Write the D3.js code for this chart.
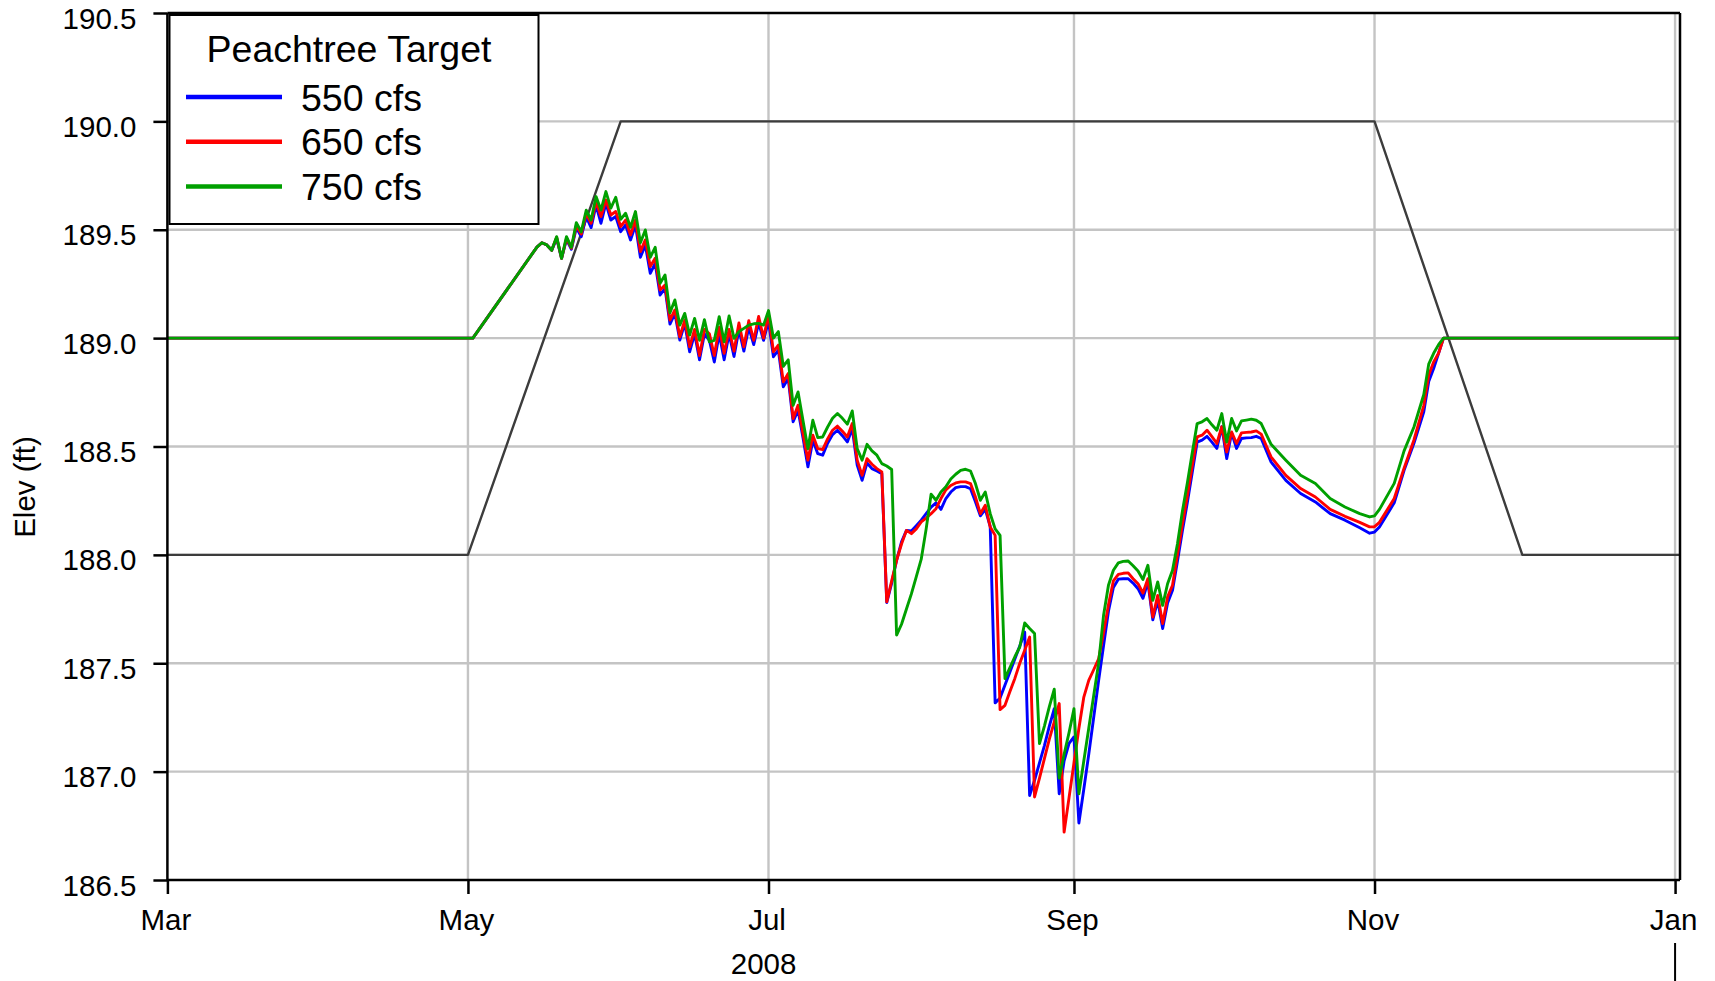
<!DOCTYPE html>
<html>
<head>
<meta charset="utf-8">
<script src="https://cdn.jsdelivr.net/npm/d3@7"></script>
<style>
  html, body { margin: 0; padding: 0; background: #ffffff; }
  svg { display: block; font-family: "Liberation Sans", Arial, Helvetica, sans-serif; }
</style>
</head>
<body>
<svg id="chart" width="1715" height="981"></svg>
<script>
// ---------------- DATA ----------------
const dates = [
  "2008-03-01","2008-05-01","2008-05-02",
  "2008-05-15","2008-05-16","2008-05-17","2008-05-18","2008-05-19","2008-05-20","2008-05-21","2008-05-22","2008-05-23","2008-05-24",
  "2008-05-25","2008-05-26","2008-05-27","2008-05-28","2008-05-29","2008-05-30","2008-05-31",
  "2008-06-01","2008-06-02","2008-06-03","2008-06-04","2008-06-05","2008-06-06","2008-06-07","2008-06-08","2008-06-09","2008-06-10",
  "2008-06-11","2008-06-12","2008-06-13","2008-06-14","2008-06-15","2008-06-16","2008-06-17","2008-06-18","2008-06-19","2008-06-20",
  "2008-06-21","2008-06-22","2008-06-23","2008-06-24","2008-06-25","2008-06-26","2008-06-27","2008-06-28","2008-06-29","2008-06-30",
  "2008-07-01","2008-07-02","2008-07-03","2008-07-04","2008-07-05","2008-07-06","2008-07-07","2008-07-08","2008-07-09","2008-07-10",
  "2008-07-11","2008-07-12","2008-07-13","2008-07-14","2008-07-15","2008-07-16","2008-07-17","2008-07-18","2008-07-19","2008-07-20",
  "2008-07-21","2008-07-22","2008-07-23","2008-07-24","2008-07-25","2008-07-26","2008-07-27","2008-07-28","2008-07-29","2008-07-30","2008-07-31",
  "2008-08-01","2008-08-02","2008-08-03","2008-08-04","2008-08-05","2008-08-06","2008-08-07","2008-08-08","2008-08-09","2008-08-10",
  "2008-08-11","2008-08-12","2008-08-13","2008-08-14","2008-08-15","2008-08-16","2008-08-17","2008-08-18","2008-08-19","2008-08-20",
  "2008-08-21","2008-08-22","2008-08-23","2008-08-24","2008-08-25","2008-08-26","2008-08-27","2008-08-28","2008-08-29","2008-08-30","2008-08-31",
  "2008-09-01","2008-09-02","2008-09-03","2008-09-04","2008-09-05","2008-09-06","2008-09-07","2008-09-08","2008-09-09","2008-09-10",
  "2008-09-11","2008-09-12","2008-09-13","2008-09-14","2008-09-15","2008-09-16","2008-09-17","2008-09-18","2008-09-19","2008-09-20",
  "2008-09-21","2008-09-22","2008-09-23","2008-09-24","2008-09-25","2008-09-26","2008-09-27","2008-09-28","2008-09-29","2008-09-30",
  "2008-10-01","2008-10-02","2008-10-03","2008-10-04","2008-10-05","2008-10-06","2008-10-07","2008-10-08","2008-10-09",
  "2008-10-11","2008-10-14","2008-10-17","2008-10-20","2008-10-23","2008-10-26","2008-10-29","2008-10-31",
  "2008-11-01","2008-11-02","2008-11-05","2008-11-07","2008-11-09","2008-11-11","2008-11-12","2008-11-13","2008-11-14","2008-11-15",
  "2009-01-02"
];

// 550 cfs
const elev550 = [
  189.0,189.0,189.0,
  189.42,189.44,189.43,189.405,189.46,189.368,189.455,189.41,189.51,189.468,
  189.56,189.51,189.614,189.53,189.622,189.545,189.561,
  189.491,189.522,189.453,189.522,189.373,189.43,189.299,189.345,189.199,189.23,
  189.065,189.114,188.991,189.068,188.937,189.02,188.90,189.02,188.99,188.89,
  189.02,188.90,189.02,188.915,189.04,188.94,189.05,188.97,189.07,188.99,
  189.08,188.914,188.945,188.775,188.814,188.614,188.667,188.54,188.406,188.529,
  188.467,188.46,188.515,188.555,188.575,188.55,188.521,188.583,188.414,188.344,
  188.424,188.398,188.387,188.375,187.78,187.87,187.975,188.06,188.113,188.11,188.135,
  188.16,188.19,188.22,188.24,188.21,188.26,188.29,188.31,188.315,188.315,
  188.305,188.245,188.18,188.21,188.13,187.317,187.34,187.40,187.46,187.52,
  187.58,187.644,186.89,186.96,187.04,187.12,187.21,187.29,186.898,187.05,187.13,
  187.16,186.763,186.92,187.08,187.25,187.42,187.58,187.74,187.85,187.888,
  187.89,187.89,187.87,187.844,187.80,187.875,187.70,187.79,187.66,187.778,
  187.837,187.97,188.11,188.24,188.38,188.52,188.529,188.547,188.52,188.491,
  188.591,188.444,188.563,188.491,188.537,188.54,188.541,188.547,188.537,
  188.429,188.344,188.283,188.244,188.19,188.16,188.125,188.10,
  188.105,188.129,188.24,188.39,188.515,188.66,188.80,188.86,188.93,189.0,
  189.0
];

// 650 cfs
const elev650 = [
  189.0,189.0,189.0,
  189.42,189.44,189.43,189.405,189.465,189.368,189.46,189.415,189.52,189.48,
  189.575,189.53,189.63,189.561,189.637,189.568,189.584,
  189.514,189.545,189.476,189.545,189.399,189.453,189.33,189.368,189.222,189.245,
  189.083,189.13,189.006,189.083,188.96,189.04,188.92,189.04,189.02,188.92,
  189.05,188.93,189.04,188.94,189.07,188.96,189.08,188.99,189.10,189.00,
  189.11,188.937,188.968,188.798,188.837,188.629,188.69,188.56,188.437,188.552,
  188.49,188.486,188.535,188.575,188.594,188.57,188.544,188.606,188.437,188.367,
  188.444,188.418,188.398,188.383,187.783,187.88,187.975,188.05,188.113,188.098,188.12,
  188.152,188.17,188.19,188.213,188.26,188.30,188.32,188.332,188.337,188.337,
  188.329,188.267,188.19,188.229,188.129,188.09,187.286,187.306,187.37,187.43,
  187.50,187.56,187.621,186.883,186.97,187.06,187.15,187.23,187.314,186.721,186.88,
  187.04,187.20,187.344,187.421,187.47,187.52,187.64,187.77,187.88,187.91,
  187.915,187.917,187.89,187.867,187.824,187.89,187.713,187.813,187.683,187.806,
  187.86,188.00,188.14,188.27,188.41,188.544,188.552,188.575,188.545,188.514,
  188.591,188.475,188.567,188.514,188.563,188.565,188.567,188.572,188.557,
  188.452,188.367,188.306,188.267,188.21,188.178,188.15,188.129,
  188.13,188.15,188.26,188.40,188.53,188.69,188.83,188.89,188.93,189.0,
  189.0
];

// 750 cfs
const elev750 = [
  189.0,189.0,189.0,
  189.42,189.44,189.43,189.405,189.468,189.368,189.468,189.419,189.533,189.49,
  189.59,189.545,189.653,189.591,189.676,189.60,189.65,
  189.548,189.576,189.511,189.584,189.44,189.499,189.373,189.419,189.253,189.291,
  189.117,189.176,189.06,189.114,189.014,189.091,188.99,189.085,188.983,188.99,
  189.099,188.983,189.102,188.999,189.03,189.045,189.06,189.066,189.068,189.06,
  189.127,189.00,189.03,188.87,188.90,188.69,188.752,188.62,188.49,188.621,
  188.541,188.544,188.59,188.63,188.652,188.63,188.603,188.664,188.49,188.437,
  188.51,188.48,188.46,188.421,188.41,188.394,187.63,187.68,187.75,187.82,187.90,
  187.98,188.12,188.28,188.252,188.29,188.314,188.35,188.372,188.39,188.395,
  188.387,188.329,188.252,188.29,188.19,188.12,188.09,187.429,187.48,187.53,
  187.575,187.686,187.66,187.637,187.129,187.21,187.30,187.38,186.97,187.08,187.18,
  187.29,186.898,187.05,187.20,187.35,187.50,187.72,187.86,187.929,187.963,
  187.97,187.972,187.95,187.926,187.886,187.952,187.79,187.875,187.767,187.867,
  187.929,188.05,188.20,188.33,188.47,188.606,188.614,188.629,188.60,188.575,
  188.652,188.521,188.629,188.572,188.618,188.622,188.626,188.621,188.606,
  188.51,188.437,188.367,188.329,188.26,188.221,188.19,188.175,
  188.18,188.21,188.33,188.48,188.59,188.74,188.88,188.93,188.97,189.0,
  189.0
];

// Peachtree rule curve (target)
const targetDates = ["2008-03-01","2008-05-01","2008-06-01","2008-11-01","2008-12-01","2009-01-02"];
const targetElev  = [188.0, 188.0, 190.0, 190.0, 188.0, 188.0];

const seriesNames  = ["550 cfs","650 cfs","750 cfs"];
const seriesColors = ["#0000ff","#ff0000","#00a000"];
const legendTitle  = "Peachtree Target";

const yTicks = [186.5,187.0,187.5,188.0,188.5,189.0,189.5,190.0,190.5];
const xTickDates  = ["2008-03-01","2008-05-01","2008-07-01","2008-09-01","2008-11-01","2009-01-01"];
const xTickLabels = ["Mar","May","Jul","Sep","Nov","Jan"];
const yearLabel = "2008";
const yearLabelDate = "2008-06-30";
const yearBreakDate = "2009-01-01";
const yTitle = "Elev (ft)";
const xDomain = ["2008-03-01","2009-01-02"];
const yDomain = [186.5, 190.5];

// ---------------- CHART ----------------
const parse = d3.timeParse("%Y-%m-%d");
const svg = d3.select("#chart");
const L = 167.4, R = 1680, T = 13, B = 880;
const FONT = 29.5;
const LFONT = 37.5;

const x = d3.scaleTime().domain(xDomain.map(parse)).range([L, R]);
const y = d3.scaleLinear().domain(yDomain).range([B, T]);

// grid
const grid = svg.append("g").attr("stroke", "#c4c4c4").attr("stroke-width", 2.4);
grid.selectAll("line.h").data(yTicks.slice(1, -1)).join("line")
  .attr("x1", L).attr("x2", R).attr("y1", d => y(d)).attr("y2", d => y(d));
grid.selectAll("line.v").data(xTickDates.slice(1)).join("line")
  .attr("x1", d => x(parse(d))).attr("x2", d => x(parse(d))).attr("y1", T).attr("y2", B);

// target line
const tData = targetDates.map((d, i) => ({ date: parse(d), v: targetElev[i] }));
svg.append("path").datum(tData)
  .attr("fill", "none").attr("stroke", "#3c3c3c").attr("stroke-width", 2.4)
  .attr("stroke-linejoin", "round")
  .attr("d", d3.line().x(d => x(d.date)).y(d => y(d.v)));

// series
const allSeries = [elev550, elev650, elev750];
const line = d3.line().x(d => x(d.date)).y(d => y(d.v));
allSeries.forEach((vals, si) => {
  const data = dates.map((d, i) => ({ date: parse(d), v: vals[i] }));
  svg.append("path").datum(data)
    .attr("fill", "none").attr("stroke", seriesColors[si]).attr("stroke-width", 2.9)
    .attr("stroke-linejoin", "round")
    .attr("d", line);
});

// frame (top & right)
svg.append("line").attr("x1", L).attr("x2", R).attr("y1", T).attr("y2", T)
  .attr("stroke", "#000").attr("stroke-width", 2.5);
svg.append("line").attr("x1", R).attr("x2", R).attr("y1", T).attr("y2", B)
  .attr("stroke", "#000").attr("stroke-width", 2.5);

// y axis
const yAxis = svg.append("g").attr("transform", `translate(${L},0)`)
  .call(d3.axisLeft(y).tickValues(yTicks).tickFormat(d3.format(".1f")).tickSize(14).tickPadding(17));
yAxis.select(".domain").attr("stroke", "#000").attr("stroke-width", 2.5).attr("d", `M0,${T}V${B}`);
yAxis.selectAll(".tick line").attr("stroke", "#000").attr("stroke-width", 2.5);
yAxis.selectAll(".tick text").attr("font-size", FONT).attr("fill", "#000")
  .attr("font-family", "Liberation Sans, Arial, sans-serif").attr("dy", "15px");

// x axis
const xAxis = svg.append("g").attr("transform", `translate(0,${B})`)
  .call(d3.axisBottom(x).tickValues(xTickDates.map(parse))
    .tickFormat((d, i) => xTickLabels[i]).tickSize(14).tickPadding(15));
xAxis.select(".domain").attr("stroke", "#000").attr("stroke-width", 2.5).attr("d", `M${L},0H${R}`);
xAxis.selectAll(".tick line").attr("stroke", "#000").attr("stroke-width", 2.5);
xAxis.selectAll(".tick text").attr("font-size", FONT).attr("fill", "#000")
  .attr("font-family", "Liberation Sans, Arial, sans-serif").attr("dx", "-2px");

// year label and separator
svg.append("text").attr("x", x(parse(yearLabelDate))).attr("y", 974)
  .attr("text-anchor", "middle").attr("font-size", FONT).text(yearLabel);
svg.append("line")
  .attr("x1", x(parse(yearBreakDate))).attr("x2", x(parse(yearBreakDate)))
  .attr("y1", 943).attr("y2", 981).attr("stroke", "#000").attr("stroke-width", 2);

// y title
svg.append("text").attr("transform", "translate(35,487) rotate(-90)")
  .attr("text-anchor", "middle").attr("font-size", FONT).text(yTitle);

// legend
const lg = svg.append("g");
lg.append("rect").attr("x", 169.5).attr("y", 15).attr("width", 369).attr("height", 209)
  .attr("fill", "#fff").attr("stroke", "#000").attr("stroke-width", 2);
lg.append("text").attr("x", 349).attr("y", 62).attr("text-anchor", "middle")
  .attr("font-size", LFONT).text(legendTitle);
seriesNames.forEach((name, i) => {
  const cy = 97 + i * 44.7;
  lg.append("line").attr("x1", 186).attr("x2", 282).attr("y1", cy).attr("y2", cy)
    .attr("stroke", seriesColors[i]).attr("stroke-width", 4.5);
  lg.append("text").attr("x", 301).attr("y", cy + 13.5).attr("font-size", LFONT).text(name);
});
</script>
</body>
</html>
